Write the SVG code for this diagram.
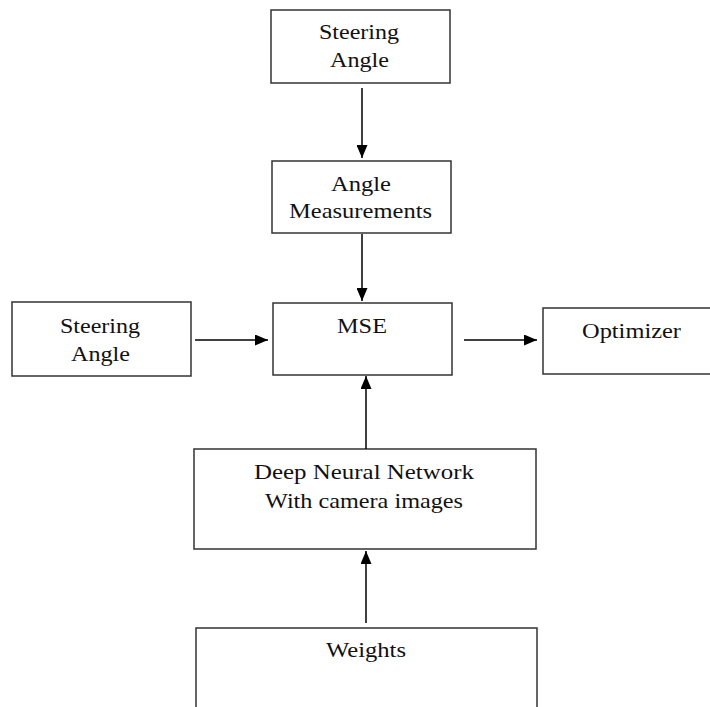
<svg xmlns="http://www.w3.org/2000/svg" width="710" height="707" viewBox="0 0 710 707">
<defs>
<style>
.box{fill:#fff;stroke:#333;stroke-width:1.5}
.t{font-family:"Liberation Serif","Times New Roman",serif;font-size:22px;fill:#111;text-anchor:middle}
.c{stroke:#000;stroke-width:1.5;fill:none}
</style>
<marker id="ah" markerWidth="13" markerHeight="11" refX="13" refY="5.5" orient="auto" markerUnits="userSpaceOnUse" viewBox="0 0 13 11">
<path d="M0,0 L13,5.5 L0,11 z" fill="#000"/>
</marker>
</defs>
<rect width="710" height="707" fill="#fff"/>
<g id="steering-top">
<rect class="box" x="271" y="10" width="179" height="73"/>
<text class="t" x="359" y="39" textLength="80" lengthAdjust="spacingAndGlyphs">Steering</text>
<text class="t" x="359.5" y="67" textLength="59" lengthAdjust="spacingAndGlyphs">Angle</text>
</g>
<g id="angle-measurements">
<rect class="box" x="272" y="161" width="179" height="72"/>
<text class="t" x="361" y="191" textLength="60" lengthAdjust="spacingAndGlyphs">Angle</text>
<text class="t" x="360.5" y="218" textLength="143" lengthAdjust="spacingAndGlyphs">Measurements</text>
</g>
<g id="steering-left">
<rect class="box" x="12" y="302" width="179" height="74"/>
<text class="t" x="100" y="333" textLength="80" lengthAdjust="spacingAndGlyphs">Steering</text>
<text class="t" x="100.5" y="361" textLength="59" lengthAdjust="spacingAndGlyphs">Angle</text>
</g>
<g id="mse">
<rect class="box" x="273" y="303" width="179" height="72"/>
<text class="t" x="362" y="333" textLength="50" lengthAdjust="spacingAndGlyphs">MSE</text>
</g>
<g id="optimizer">
<rect class="box" x="543" y="308" width="170" height="66"/>
<text class="t" x="631.5" y="338" textLength="99" lengthAdjust="spacingAndGlyphs">Optimizer</text>
</g>
<g id="dnn">
<rect class="box" x="194" y="449" width="342" height="100"/>
<text class="t" x="364" y="479" textLength="220" lengthAdjust="spacingAndGlyphs">Deep Neural Network</text>
<text class="t" x="364" y="508" textLength="198" lengthAdjust="spacingAndGlyphs">With camera images</text>
</g>
<g id="weights">
<rect class="box" x="196" y="628" width="341" height="90"/>
<text class="t" x="366" y="657" textLength="80" lengthAdjust="spacingAndGlyphs">Weights</text>
</g>
<g id="connectors">
<line class="c" x1="362" y1="88" x2="362" y2="158" marker-end="url(#ah)"/>
<line class="c" x1="362" y1="234" x2="362" y2="301" marker-end="url(#ah)"/>
<line class="c" x1="195" y1="340" x2="268" y2="340" marker-end="url(#ah)"/>
<line class="c" x1="464" y1="340" x2="537" y2="340" marker-end="url(#ah)"/>
<line class="c" x1="366" y1="449" x2="366" y2="376" marker-end="url(#ah)"/>
<line class="c" x1="366" y1="623" x2="366" y2="551" marker-end="url(#ah)"/>
</g>
</svg>
